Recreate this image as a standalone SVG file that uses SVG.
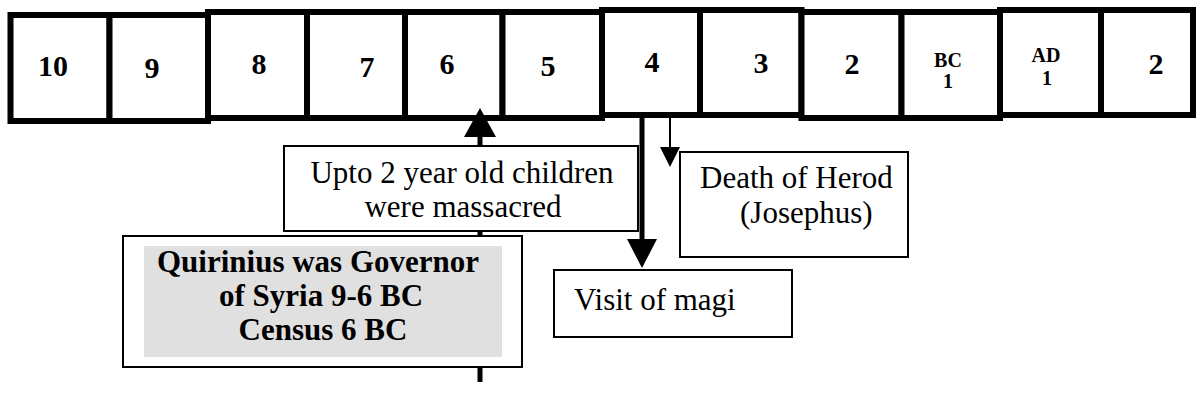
<svg xmlns="http://www.w3.org/2000/svg" width="1196" height="411" viewBox="0 0 1196 411">
<style>
.tl{fill:#fff;stroke:#000;stroke-width:6}
.ev{fill:#fff;stroke:#000;stroke-width:2}
.num{font-family:"Liberation Serif","Times New Roman",serif;font-weight:bold;font-size:30px;text-anchor:middle;fill:#000}
.sm{font-family:"Liberation Serif","Times New Roman",serif;font-weight:bold;font-size:20px;text-anchor:middle;fill:#000}
.txt{font-family:"Liberation Serif","Times New Roman",serif;font-size:31px;fill:#000}
.bt{font-family:"Liberation Serif","Times New Roman",serif;font-weight:bold;font-size:31px;text-anchor:middle;fill:#000}
</style>
<rect width="1196" height="411" fill="#fff"/>
<g id="timeline">
<g id="y10"><rect class="tl" x="10.5" y="15" width="99" height="106"/><text class="num" x="53" y="76">10</text></g>
<g id="y9"><rect class="tl" x="109.5" y="15" width="98.5" height="106"/><text class="num" x="152" y="78">9</text></g>
<g id="y8"><rect class="tl" x="208" y="12" width="99" height="106"/><text class="num" x="259" y="74">8</text></g>
<g id="y7"><rect class="tl" x="307" y="12" width="98" height="106"/><text class="num" x="367" y="77">7</text></g>
<g id="y6"><rect class="tl" x="405" y="12" width="97.5" height="106"/><text class="num" x="447" y="74">6</text></g>
<g id="y5"><rect class="tl" x="502.5" y="12" width="99.5" height="106"/><text class="num" x="548" y="76">5</text></g>
<g id="y4"><rect class="tl" x="602" y="10" width="98" height="105"/><text class="num" x="652" y="72">4</text></g>
<g id="y3"><rect class="tl" x="700" y="10" width="101.5" height="105"/><text class="num" x="761" y="73">3</text></g>
<g id="y2"><rect class="tl" x="801.5" y="12" width="100" height="106"/><text class="num" x="852" y="74">2</text></g>
<g id="bc1"><rect class="tl" x="901.5" y="12" width="98.5" height="106"/><text class="sm" x="948" y="67">BC</text><text class="sm" x="948" y="88">1</text></g>
<g id="ad1"><rect class="tl" x="1000" y="10" width="101" height="105"/><text class="sm" x="1046" y="62">AD</text><text class="sm" x="1047" y="85">1</text></g>
<g id="ad2"><rect class="tl" x="1101" y="10" width="92" height="105"/><text class="num" x="1156" y="74">2</text></g>
</g>
<g id="connectors">
<line x1="480" y1="135" x2="480" y2="382" stroke="#000" stroke-width="5"/>
<polygon points="480,108 464,137 496,137" fill="#000"/>
<line x1="642" y1="112" x2="642" y2="241" stroke="#000" stroke-width="5"/>
<polygon points="627,239 657,239 642,268" fill="#000"/>
<line x1="670" y1="117" x2="670" y2="149" stroke="#000" stroke-width="2"/>
<polygon points="660,147 680,147 670,167" fill="#000"/>
</g>
<g id="massacre">
<rect class="ev" x="284" y="146" width="354" height="85"/>
<text class="txt" x="462" y="183" text-anchor="middle">Upto 2 year old children</text>
<text class="txt" x="463" y="217" text-anchor="middle">were massacred</text>
</g>
<g id="herod">
<rect class="ev" x="680" y="152" width="228" height="105"/>
<text class="txt" x="700" y="188">Death of Herod</text>
<text class="txt" x="740" y="223">(Josephus)</text>
</g>
<g id="magi">
<rect class="ev" x="554" y="270" width="238" height="67"/>
<text class="txt" x="574" y="310">Visit of magi</text>
</g>
<g id="quirinius">
<rect class="ev" x="123" y="236" width="399" height="131"/>
<rect x="144" y="246" width="358" height="111" fill="#e0e0e0"/>
<text class="bt" x="318" y="272">Quirinius was Governor</text>
<text class="bt" x="321" y="306">of Syria 9-6 BC</text>
<text class="bt" x="323" y="340">Census 6 BC</text>
</g>
</svg>
